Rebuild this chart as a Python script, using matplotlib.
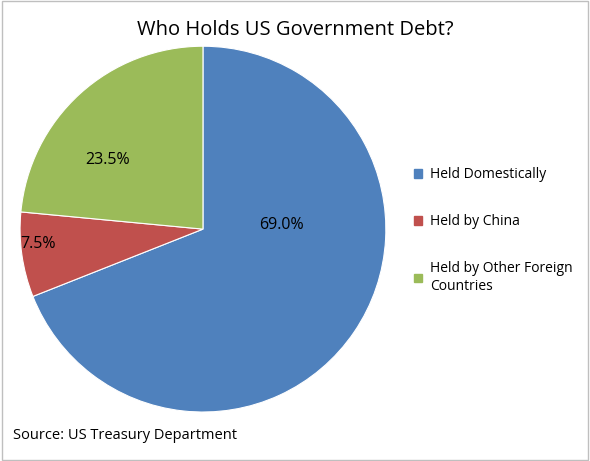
import matplotlib.pyplot as plt

labels = ["Held Domestically", "Held by China", "Held by Other Foreign\nCountries"]
shares = [69.0, 7.5, 23.5]
colors = ["#4F81BD", "#C0504D", "#9BBB59"]
# where Excel put the percentage labels (pie radius units)
label_pos = [(0.43, 0.02), (-0.9, -0.08), (-0.52, 0.38)]

plt.rcParams["font.family"] = ["Open Sans", "DejaVu Sans"]

fig = plt.figure(figsize=(5.9, 4.61), dpi=100)
fig.patches.append(plt.Rectangle((0.003, 0.003), 0.994, 0.994, transform=fig.transFigure,
                                 fill=False, edgecolor="#BFBFBF", linewidth=1))

ax = fig.add_axes([0.034, 0.106, 0.62, 0.794])
wedges, _ = ax.pie(shares, colors=colors, startangle=90, counterclock=False,
                   wedgeprops=dict(edgecolor="white", linewidth=0.8))
ax.set_xlim(-1, 1)
ax.set_ylim(-1, 1)
ax.set_aspect("equal")

for (x, y), s in zip(label_pos, shares):
    ax.text(x, y, f"{s:.1f}%", ha="center", va="center", fontsize=11.5)

fig.text(0.5, 0.935, "Who Holds US Government Debt?", ha="center", va="center", fontsize=14.5)
fig.text(0.022, 0.055, "Source: US Treasury Department", ha="left", va="center", fontsize=10.5)

handles = [plt.Rectangle((0, 0), 1, 1, color=c) for c in colors]
fig.legend(handles, labels, loc="center left", bbox_to_anchor=(0.68, 0.5), frameon=False,
           fontsize=10, handlelength=0.6, handleheight=0.6, labelspacing=2.3, handletextpad=0.6)

fig.savefig("out.png", dpi=100)
